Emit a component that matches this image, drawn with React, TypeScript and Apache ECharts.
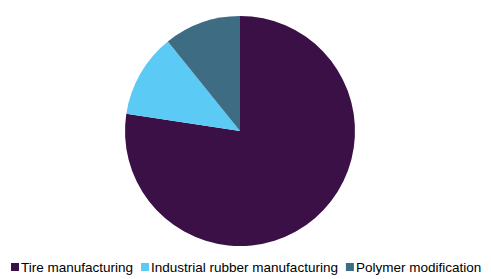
import React, { useEffect, useRef } from "react";
import * as echarts from "echarts";

const categories = ["Tire manufacturing", "Industrial rubber manufacturing", "Polymer modification"];
const values = [77.4, 11.8, 10.8];
const colors = ["#3a1046", "#5bcaf5", "#3e6c83"];

export default function App() {
  const ref = useRef<HTMLDivElement>(null);
  useEffect(() => {
    const chart = echarts.init(ref.current!, null, { renderer: "svg" });
    chart.setOption({
      animation: false,
      color: colors,
      legend: {
        bottom: 5,
        left: 11,
        width: 480,
        padding: 0,
        itemWidth: 8,
        itemHeight: 8,
        itemGap: 8,
        icon: "rect",
        textStyle: { fontFamily: "Liberation Sans, Arial", fontSize: 13.5, color: "#000", padding: [0, 0, 0, -3] },
        data: categories,
      },
      series: [
        {
          type: "pie",
          center: [240, 131],
          radius: 115,
          startAngle: 90,
          clockwise: true,
          label: { show: false },
          labelLine: { show: false },
          itemStyle: { borderWidth: 0 },
          emphasis: { disabled: true },
          data: categories.map((c, i) => ({ name: c, value: values[i] })),
        },
      ],
    });
    return () => chart.dispose();
  }, []);
  return <div ref={ref} style={{ width: 491, height: 279, position: "absolute", left: 0, top: 0 }} />;
}
